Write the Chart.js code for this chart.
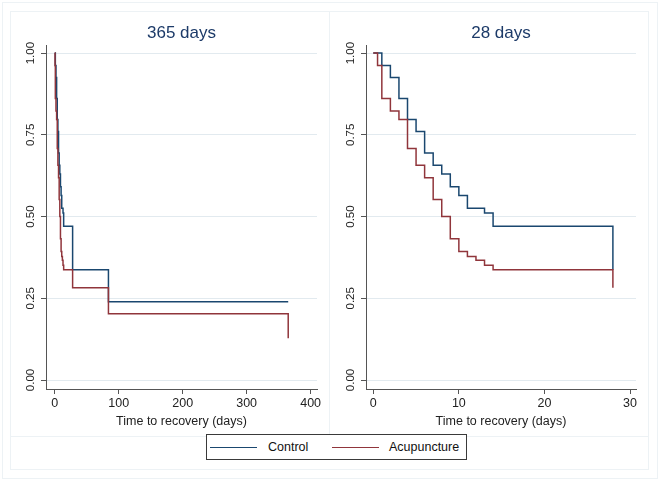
<!DOCTYPE html>
<html>
<head>
<meta charset="utf-8">
<script src="https://cdn.jsdelivr.net/npm/chart.js@4.4.1/dist/chart.umd.min.js"></script>
<style>
html,body{margin:0;padding:0;background:#ffffff;}
#wrap{position:relative;width:660px;height:480px;overflow:hidden;background:#ffffff;font-family:"Liberation Sans",Arial,sans-serif;}
.frame{position:absolute;border:1px solid #edf2f5;box-sizing:border-box;}
canvas.cv{position:absolute;top:0;}
#legend{position:absolute;left:206px;top:434px;width:261px;height:26px;border:1px solid #3a3a3a;box-sizing:border-box;background:#fff;}
#legend .ln{position:absolute;top:12px;height:0;border-top:1.5px solid;width:47px;}
#legend .tx{position:absolute;top:4px;font-size:12.5px;line-height:16px;color:#111;white-space:nowrap;}
</style>
</head>
<body>
<div id="wrap">
  <div class="frame" style="left:2px;top:2px;width:656px;height:477px;"></div>
  <div class="frame" style="left:10px;top:11px;width:639px;height:459px;"></div>
  <div class="frame" style="left:10px;top:11px;width:320px;height:426px;"></div>
  <div class="frame" style="left:329px;top:11px;width:320px;height:426px;"></div>
  <canvas id="c1" class="cv" width="330" height="440" style="left:0px;"></canvas>
  <canvas id="c2" class="cv" width="330" height="440" style="left:330px;"></canvas>
  <div id="legend">
    <div class="ln" style="left:3px;border-color:#1a476f;"></div>
    <div class="tx" style="left:61px;">Control</div>
    <div class="ln" style="left:125px;border-color:#90353b;"></div>
    <div class="tx" style="left:182px;">Acupuncture</div>
  </div>
</div>
<script>
// ---- Data (Kaplan-Meier step curves) ----
const seriesNames = ["Control", "Acupuncture"];
const panelTitles = ["365 days", "28 days"];
const xAxisTitle = "Time to recovery (days)";

// first 28 days
const controlTime = [0, 1, 2, 3, 4, 5, 6, 7, 8, 9, 10, 11, 13, 14, 28];
const controlSurv = [1.000, 0.962, 0.925, 0.861, 0.797, 0.760, 0.694, 0.657, 0.630, 0.591, 0.564, 0.525, 0.511, 0.470, 0.337];
const acuTime = [0, 0.5, 1, 2, 3, 4, 5, 6, 7, 8, 9, 10, 11, 12, 13, 14, 28];
const acuSurv = [1.000, 0.962, 0.861, 0.823, 0.797, 0.708, 0.657, 0.619, 0.552, 0.500, 0.432, 0.393, 0.378, 0.366, 0.351, 0.337, 0.282];

// after 28 days (365-day follow-up)
const controlLateTime = [84, 365];
const controlLateSurv = [0.239, 0.239];
const acuLateTime = [84, 365];
const acuLateSurv = [0.203, 0.128];

const yTicks = [0, 0.25, 0.5, 0.75, 1];
const xTicks365 = [0, 100, 200, 300, 400];
const xTicks28 = [0, 10, 20, 30];

// ---- helpers ----
function pts(t, s) { return t.map((v, i) => ({x: v, y: s[i]})); }

const FONT = '"Liberation Sans", Arial, sans-serif';
const COL_CONTROL = '#1a476f';
const COL_ACU = '#90353b';

function makeChart(id, title, xMin, xMax, xTickVals, ctrlPts, acuPts, pad) {
  return new Chart(document.getElementById(id), {
    type: 'line',
    data: {
      datasets: [
        {label: seriesNames[0], data: ctrlPts, borderColor: COL_CONTROL, borderWidth: 1.5,
         stepped: 'before', pointRadius: 0, fill: false, order: 1},
        {label: seriesNames[1], data: acuPts, borderColor: COL_ACU, borderWidth: 1.5,
         stepped: 'before', pointRadius: 0, fill: false, order: 0}
      ]
    },
    options: {
      responsive: false,
      animation: false,
      events: [],
      layout: {padding: pad},
      plugins: {
        legend: {display: false},
        tooltip: {enabled: false},
        title: {
          display: true, text: title, fullSize: false,
          color: '#1c3a68',
          font: {family: FONT, size: 17, weight: 'normal'},
          padding: {top: 11, bottom: 2}
        }
      },
      scales: {
        x: {
          type: 'linear', min: xMin, max: xMax,
          afterBuildTicks: s => { s.ticks = xTickVals.map(v => ({value: v})); },
          afterFit: s => { s.height = 45; },
          grid: {drawOnChartArea: false, drawTicks: true, tickLength: 5, tickColor: '#555', tickWidth: 1},
          border: {display: true, color: '#555', width: 1},
          ticks: {color: '#222', font: {family: FONT, size: 12.5}, padding: 2, maxRotation: 0,
                  callback: v => String(v)},
          title: {display: true, text: xAxisTitle, color: '#222',
                  font: {family: FONT, size: 12.5}, padding: {top: 0, bottom: 5}}
        },
        y: {
          type: 'linear', min: -0.0275, max: 1.0235,
          afterBuildTicks: s => { s.ticks = yTicks.map(v => ({value: v})); },
          afterFit: s => { s.width = 36; },
          grid: {color: '#e2eaef', lineWidth: 1, drawTicks: true, tickLength: 5, tickColor: '#555', tickWidth: 1},
          border: {display: true, color: '#555', width: 1},
          ticks: {color: '#222', font: {family: FONT, size: 11.5}, padding: -1,
                  minRotation: 90, maxRotation: 90, crossAlign: 'center',
                  callback: v => Number(v).toFixed(2)}
        }
      }
    }
  });
}

makeChart('c1', panelTitles[0], -13.6, 410, xTicks365,
  pts(controlTime.concat(controlLateTime), controlSurv.concat(controlLateSurv)),
  pts(acuTime.concat(acuLateTime), acuSurv.concat(acuLateSurv)),
  {left: 10, right: 13, top: 12, bottom: 6});

makeChart('c2', panelTitles[1], -0.85, 30.7, xTicks28,
  pts(controlTime, controlSurv),
  pts(acuTime, acuSurv),
  {left: 0, right: 24, top: 12, bottom: 6});
</script>
</body>
</html>
